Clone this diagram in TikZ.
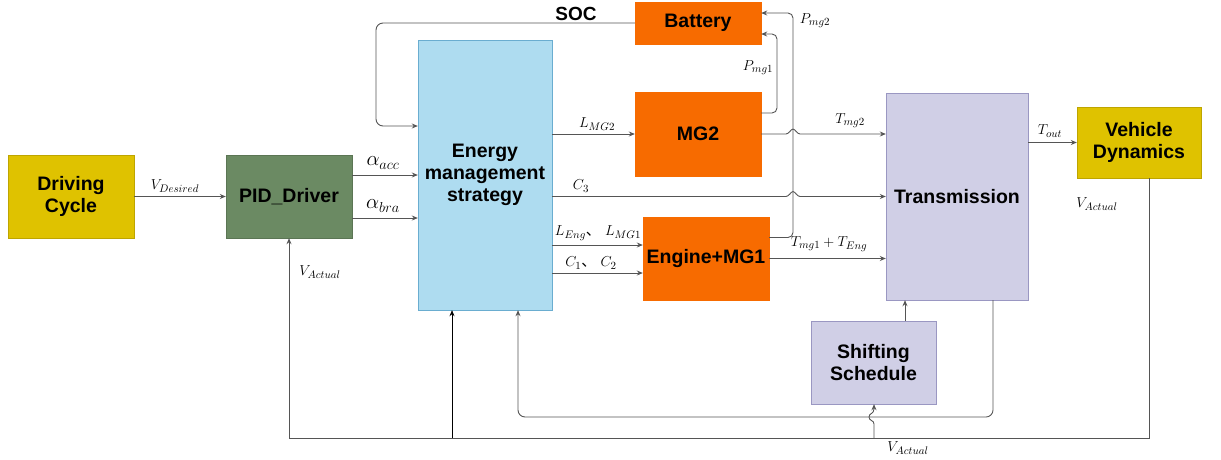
\documentclass[tikz,border=0pt]{standalone}
\usepackage{fontspec}
\setmainfont{Liberation Sans}
\newfontfamily\cjk{Noto Sans CJK SC}
\usetikzlibrary{arrows.meta,calc}
\definecolor{ochre}{HTML}{DFC200}
\definecolor{pidg}{HTML}{6B8A63}
\definecolor{emsb}{HTML}{AEDCF0}
\definecolor{emsd}{HTML}{6AADD0}
\definecolor{orng}{HTML}{F76B00}
\definecolor{lav}{HTML}{D0CFE6}
\definecolor{lavd}{HTML}{9A97C2}
\definecolor{linec}{HTML}{555555}
\begin{document}
\begin{tikzpicture}[x=1pt,y=-1pt,
  box/.style={draw, rectangle, align=center, inner sep=0pt,
    font=\bfseries\fontsize{19.5}{22}\selectfont},
  line/.style={draw=linec, line width=0.9pt},
  arr/.style={line, -{Stealth[length=6pt,width=5pt]}},
  lab/.style={font=\fontsize{15}{17}\selectfont, inner sep=1pt},
  biglab/.style={font=\fontsize{21}{23}\selectfont, inner sep=1pt}]
\useasboundingbox (0,0) rectangle (1221,459);

% boxes
\node[box, fill=ochre, draw=ochre!85!black, minimum width=126pt, minimum height=83pt] (dc) at (71,196.5) {Driving\\Cycle};
\node[box, fill=pidg, draw=pidg!85!black, minimum width=126pt, minimum height=83pt] (pid) at (289,196.5) {PID\_Driver};
\node[box, fill=emsb, draw=emsd, minimum width=134pt, minimum height=270pt] (ems) at (485,175) {Energy\\management\\strategy};
\node[box, fill=orng, draw=orng, minimum width=126pt, minimum height=42pt] (bat) at (698,23) {Battery};
\node[box, fill=orng, draw=orng, minimum width=126pt, minimum height=84pt] (mg2) at (698,134) {MG2};
\node[box, fill=orng, draw=orng, minimum width=126pt, minimum height=83pt] (eng) at (706,258.5) {Engine+MG1};
\node[box, fill=lav, draw=lavd, minimum width=142pt, minimum height=207pt] (tr) at (957,196.5) {Transmission};
\node[box, fill=ochre, draw=ochre!85!black, minimum width=124pt, minimum height=71pt] (vd) at (1139,142.5) {Vehicle\\Dynamics};
\node[box, fill=lav, draw=lavd, minimum width=125pt, minimum height=83pt] (ss) at (873.5,362.5) {Shifting\\Schedule};

% helper coordinates
\coordinate (ya) at (0,175);
\coordinate (yb) at (0,218);
\coordinate (socx) at (376,126);
\coordinate (l1) at ([yshift=13.5pt]eng.west);
\coordinate (l2) at ([yshift=-14.5pt]eng.west);
\coordinate (hopA) at (793,134);
\coordinate (hopB) at (793,196.5);
\coordinate (p1) at (777,34);
\coordinate (p2) at (793,13);
\coordinate (vb) at (1149,438);
\coordinate (e1) at (452,438);
\coordinate (tb) at (993,417);
\coordinate (e2) at (518,417);
\coordinate (sb) at (874,438);
\coordinate (sx) at (905,0);

% connectors
\draw[arr] (dc) -- (pid);
\draw[arr] (pid.east |- ya) -- (ems.west |- ya);
\draw[arr] (pid.east |- yb) -- (ems.west |- yb);
\draw[arr, rounded corners=7pt] (bat.west) -| (socx) -- (ems.west |- socx);
\draw[arr] (ems.east |- mg2.west) -- (mg2.west);
\draw[arr] (ems.east |- tr.west) -- ([xshift=-7pt]hopB)
   .. controls +(3,0) and +(-2,0) .. ([yshift=5pt]hopB)
   .. controls +(2,0) and +(-3,0) .. ([xshift=7pt]hopB) -- (tr.west);
\draw[arr] (ems.east |- l1) -- (l1);
\draw[arr] (ems.east |- l2) -- (l2);
\draw[arr, rounded corners=5pt] ([yshift=21pt]mg2.east) -| (p1) -- (p1 -| bat.east);
\draw[arr, rounded corners=5pt] ([yshift=21pt]eng.east) -| (p2) -- (p2 -| bat.east);
\draw[arr] (mg2.east) -- ([xshift=-7pt]hopA)
   .. controls +(3,0) and +(-2,0) .. ([yshift=5pt]hopA)
   .. controls +(2,0) and +(-3,0) .. ([xshift=7pt]hopA) -- (tr.west |- mg2.east);
\draw[arr] (eng.east) -- (tr.west |- eng.east);
\draw[arr] (tr.east |- vd.west) -- (vd.west);
\draw[arr] (vd.south -| vb) -- (vb) -| (pid.south);
\draw[arr, draw=black, line width=0.7pt] (e1) -- (ems.south -| e1);
\draw[arr, rounded corners=7pt] (tr.south -| tb) -- (tb) -- (e2) -- (ems.south -| e2);
\draw[arr] (sb) -- (874,424) .. controls (874,420) and (869,421) .. (869,417)
   .. controls (869,413) and (874,414) .. (874,409) -- (ss.south -| sb);
\draw[arr] (ss.north -| sx) -- (tr.south -| sx);

% labels
\node[lab] (lvd) at (175,186) {$V_{Desired}$};
\node[biglab] (lacc) at (383,163) {$\alpha_{acc}$};
\node[biglab] (lbra) at (383,206) {$\alpha_{bra}$};
\node[font=\bfseries\fontsize{19}{21}\selectfont] (lsoc) at (576,14) {SOC};
\node[lab] (llmg2) at (597,124) {$L_{MG2}$};
\node[lab] (lc3) at (581,186) {$C_3$};
\node[lab] (lleng) at (598,233) {$L_{Eng}${\cjk 、} $L_{MG1}$};
\node[lab] (lc12) at (591,263) {$C_1${\cjk 、} $C_2$};
\node[lab] (lpmg1) at (758,68) {$P_{mg1}$};
\node[lab] (lpmg2) at (815,21) {$P_{mg2}$};
\node[lab] (ltmg2) at (850,121) {$T_{mg2}$};
\node[lab] (ltmg1) at (829,244) {$T_{mg1}+T_{Eng}$};
\node[lab] (ltout) at (1050,131) {$T_{out}$};
\node[lab] (lva1) at (1097,204) {$V_{Actual}$};
\node[lab] (lva2) at (320,272) {$V_{Actual}$};
\node[lab] (lva3) at (908,448) {$V_{Actual}$};
\end{tikzpicture}
\end{document}
